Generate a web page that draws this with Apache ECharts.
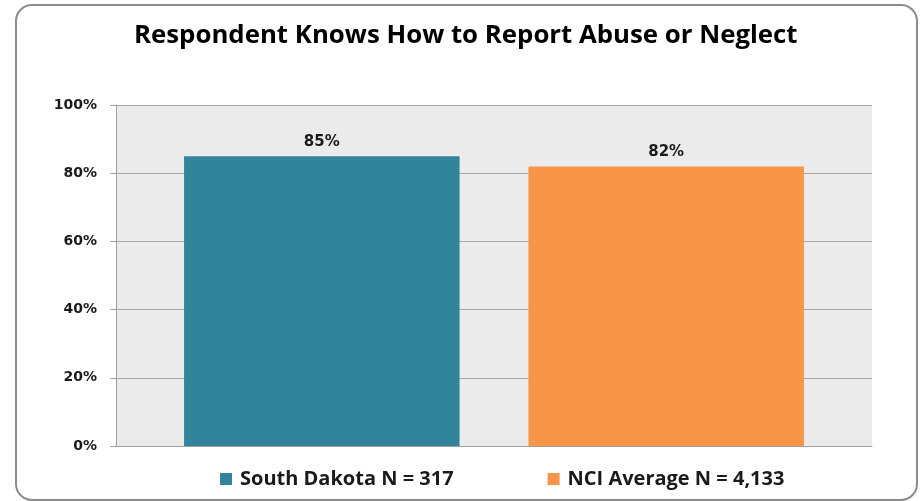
<!DOCTYPE html>
<html>
<head>
<meta charset="utf-8">
<script src="https://cdn.jsdelivr.net/npm/echarts@6/dist/echarts.min.js"></script>
<style>
html,body{margin:0;padding:0;background:#fff;}
#chart{width:921px;height:501px;}
</style>
</head>
<body>
<div id="chart"></div>
<script>
var title = 'Respondent Knows How to Report Abuse or Neglect';
var categories = ['Respondent Knows How to Report Abuse or Neglect'];
var seriesNames = ['South Dakota N = 317', 'NCI Average N = 4,133'];
var southDakota = [85];
var nciAverage = [82];
var yTicks = [0, 20, 40, 60, 80, 100];

var chart = echarts.init(document.getElementById('chart'));
var labelStyle = {
  show: true, position: 'top', distance: 7,
  formatter: function(p){ return p.value + '%'; },
  fontFamily: 'DejaVu Sans', fontWeight: 'bold', fontSize: 15, color: '#1a1a1a'
};
chart.setOption({
  animation: false,
  backgroundColor: '#ffffff',
  title: {
    text: title, left: 129, top: 18,
    textStyle: {fontFamily: 'Open Sans', fontWeight: 'bold', fontSize: 25.8, color: '#000'}
  },
  graphic: [{
    type: 'rect', silent: true, z: 100,
    shape: {x: 16, y: 5, width: 901, height: 495, r: 16},
    style: {fill: 'none', stroke: '#8c8c8c', lineWidth: 2}
  }],
  legend: {
    bottom: 7, left: 215, itemGap: 94, itemWidth: 12, itemHeight: 12,
    icon: 'rect',
    textStyle: {fontFamily: 'Open Sans', fontWeight: 'bold', fontSize: 20, color: '#1a1a1a', padding: [0, 0, 0, 3]},
    data: seriesNames
  },
  grid: {left: 116, right: 49, top: 105, bottom: 55, show: true, backgroundColor: '#ebebeb', borderWidth: 0},
  xAxis: {
    type: 'category', data: categories,
    axisLine: {show: true, lineStyle: {color: '#a0a0a0', width: 1}},
    axisTick: {show: false}, axisLabel: {show: false}
  },
  yAxis: {
    type: 'value', min: 0, max: 100, interval: 20,
    axisLine: {show: true, lineStyle: {color: '#a0a0a0', width: 1}},
    axisTick: {show: true, length: 6, lineStyle: {color: '#a0a0a0'}},
    splitLine: {show: true, lineStyle: {color: '#a6a6a6', width: 1}},
    axisLabel: {
      margin: 19,
      formatter: function(v){ return yTicks.indexOf(v) >= 0 ? v + '%' : ''; },
      fontFamily: 'DejaVu Sans', fontWeight: 'bold', fontSize: 14, color: '#1a1a1a'
    }
  },
  series: [
    {name: seriesNames[0], type: 'bar', data: southDakota, barGap: '25%', barCategoryGap: '18%',
     itemStyle: {color: '#31849b'}, label: labelStyle},
    {name: seriesNames[1], type: 'bar', data: nciAverage,
     itemStyle: {color: '#f79646'}, label: labelStyle}
  ]
});
</script>
</body>
</html>
